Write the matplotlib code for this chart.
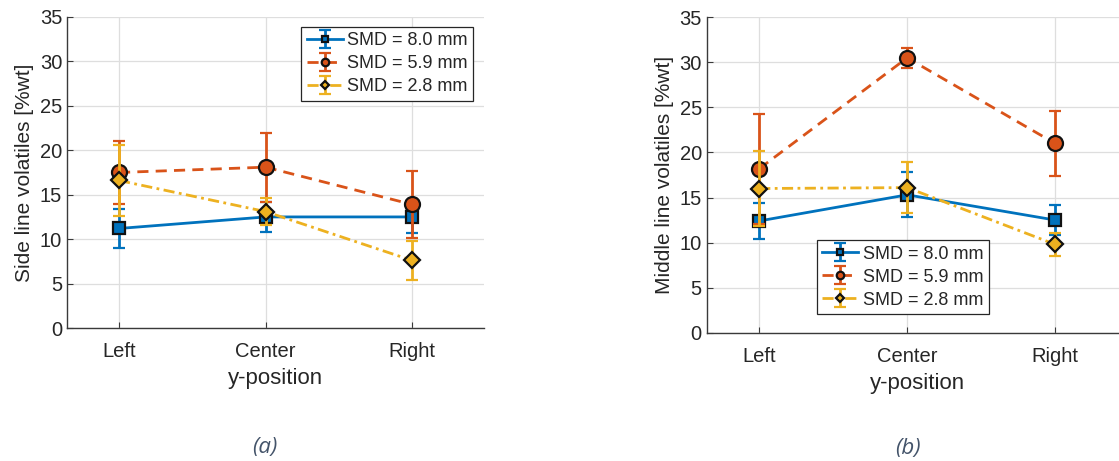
import matplotlib
matplotlib.use("Agg")
import matplotlib.pyplot as plt
import numpy as np

plt.rcParams['font.family'] = ['Liberation Sans', 'DejaVu Sans']

positions = ["Left", "Center", "Right"]
series_labels = ["SMD = 8.0 mm", "SMD = 5.9 mm", "SMD = 2.8 mm"]

# Panel (a): side line volatiles
side_mean_80 = [11.2, 12.5, 12.5]
side_err_80 = [2.2, 1.7, 1.8]
side_mean_59 = [17.5, 18.1, 13.9]
side_err_59 = [3.5, 3.9, 3.8]
side_mean_28 = [16.6, 13.1, 7.6]
side_err_28 = [4.0, 1.5, 2.2]

# Panel (b): middle line volatiles
mid_mean_80 = [12.4, 15.3, 12.5]
mid_err_80 = [2.0, 2.5, 1.7]
mid_mean_59 = [18.2, 30.5, 21.0]
mid_err_59 = [6.1, 1.1, 3.6]
mid_mean_28 = [16.0, 16.1, 9.8]
mid_err_28 = [4.2, 2.8, 1.3]

colors = ["#0072BD", "#D95319", "#EDB120"]
markers = ["s", "o", "D"]
msizes = [8.8, 10.8, 7.8]
lstyles = ["-", (0, (4.0, 2.6)), (0, (4.0, 1.6, 1.0, 1.6))]

W, H = 1119, 461
fig = plt.figure(figsize=(W / 100, H / 100), dpi=100)

def px_axes(x0, x1, ytop, ybot):
    return fig.add_axes([x0 / W, 1 - ybot / H, (x1 - x0) / W, (ybot - ytop) / H])

ax_a = px_axes(67, 484, 17, 328)
ax_b = px_axes(706.7, 1127.6, 17.3, 332.7)

x = np.arange(1, len(positions) + 1)

def draw(ax, means, errs, ylabel, leg_kw):
    for i, (m, e) in enumerate(zip(means, errs)):
        ax.errorbar(x, m, yerr=e, color=colors[i], ls=lstyles[i], lw=2.0,
                    marker=markers[i], ms=msizes[i], mfc=colors[i], mec="#111111",
                    mew=1.6, ecolor=colors[i], elinewidth=2.0, capsize=4.5,
                    capthick=2.0, label=series_labels[i], zorder=3 + i)
    ax.set_xlim(0.645, 3.49)
    ax.set_ylim(0, 35)
    ax.set_yticks(np.arange(0, 36, 5))
    ax.set_xticks(x)
    ax.set_xticklabels(positions)
    ax.grid(True, color="#dedede", lw=0.9)
    ax.set_axisbelow(True)
    for s in ["top", "right"]:
        ax.spines[s].set_visible(False)
    for s in ["left", "bottom"]:
        ax.spines[s].set_color("#3a3a3a")
        ax.spines[s].set_linewidth(1.0)
    ax.tick_params(direction="in", length=4, width=0.8, color="#3a3a3a",
                   labelcolor="#262626", labelsize=14.5)
    ax.tick_params(axis="x", pad=10)
    ax.set_xlabel("y-position", fontsize=16, color="#262626", labelpad=5)
    ax.set_ylabel(ylabel, fontsize=15, color="#262626", labelpad=4)
    leg = ax.legend(fontsize=13, frameon=True, fancybox=False, framealpha=1,
                    edgecolor="#262626", handlelength=2.0, handletextpad=0.25,
                    labelspacing=0.33, borderpad=0.3, borderaxespad=0,
                    markerscale=0.5, **leg_kw)
    leg.get_frame().set_linewidth(0.9)
    for t in leg.get_texts():
        t.set_color("#262626")

draw(ax_a, [side_mean_80, side_mean_59, side_mean_28],
     [side_err_80, side_err_59, side_err_28],
     "Side line volatiles [%wt]",
     dict(loc="upper right", bbox_to_anchor=(0.974, 0.968)))
draw(ax_b, [mid_mean_80, mid_mean_59, mid_mean_28],
     [mid_err_80, mid_err_59, mid_err_28],
     "Middle line volatiles [%wt]",
     dict(loc="lower left", bbox_to_anchor=(0.261, 0.059)))

cap_kw = dict(fontsize=16, style="italic", color="#44546A",
              family=["Open Sans", "DejaVu Sans"], ha="center", va="center")
fig.text(265 / W, 1 - 447 / H, "(a)", **cap_kw)
fig.text(908 / W, 1 - 448 / H, "(b)", **cap_kw)

fig.savefig("out.png", dpi=100)
